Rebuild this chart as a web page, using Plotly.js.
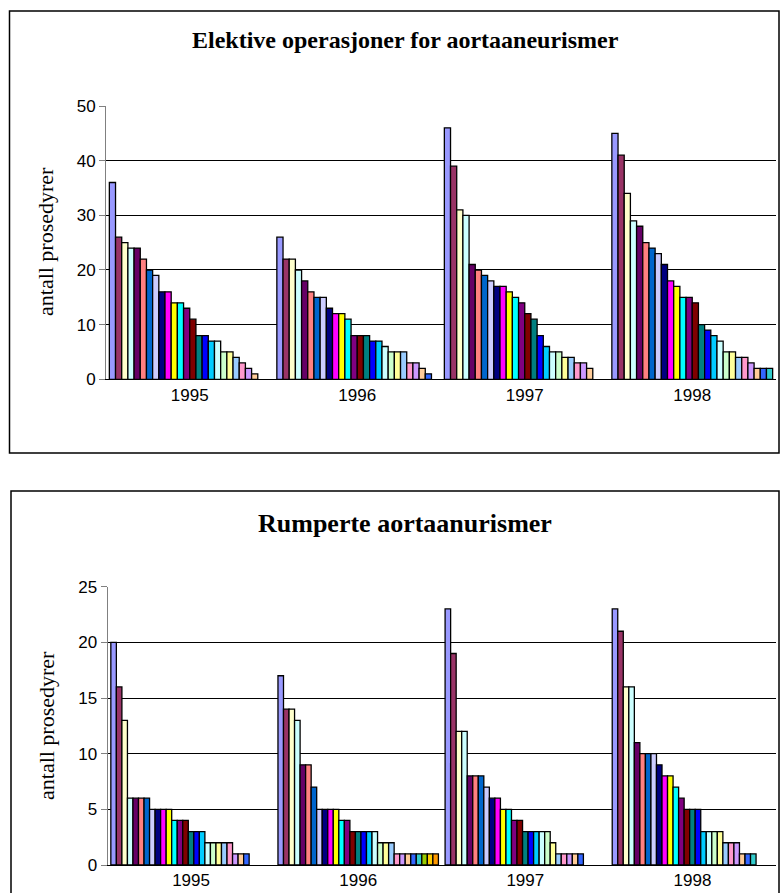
<!DOCTYPE html>
<html>
<head>
<meta charset="utf-8">
<script src="https://cdn.plot.ly/plotly-3.0.1.min.js"></script>
<style>
  html, body { margin: 0; padding: 0; background: #ffffff; }
  #chart { width: 782px; height: 893px; }
</style>
</head>
<body>
<div id="chart"></div>
<script>
// Categories (years)
const years = ["1995", "1996", "1997", "1998"];

// Elective operations – procedures per hospital, sorted descending within each year
const elektiv1995 = [36,26,25,24,24,22,20,19,16,16,14,14,13,11,8,8,7,7,5,5,4,3,2,1];
const elektiv1996 = [26,22,22,20,18,16,15,15,13,12,12,11,8,8,8,7,7,6,5,5,5,3,3,2,1];
const elektiv1997 = [46,39,31,30,21,20,19,18,17,17,16,15,14,12,11,8,6,5,5,4,4,3,3,2];
const elektiv1998 = [45,41,34,29,28,25,24,23,21,18,17,15,15,14,10,9,8,7,5,5,4,4,3,2,2,2];

// Ruptured aneurysms – procedures per hospital, sorted descending within each year
const ruptur1995 = [20,16,13,6,6,6,6,5,5,5,5,4,4,4,3,3,3,2,2,2,2,2,1,1,1];
const ruptur1996 = [17,14,14,13,9,9,7,5,5,5,5,4,4,3,3,3,3,3,2,2,2,1,1,1,1,1,1,1,1];
const ruptur1997 = [23,19,12,12,8,8,8,7,6,6,5,5,4,4,3,3,3,3,3,2,1,1,1,1,1];
const ruptur1998 = [23,21,16,16,11,10,10,10,9,8,8,7,6,5,5,5,3,3,3,3,2,2,2,1,1,1];

// Y axis ticks
const topTicks = [0, 10, 20, 30, 40, 50];
const botTicks = [0, 5, 10, 15, 20, 25];

// Excel default series fill colours
const seriesColors = ["#9999FF","#993366","#FFFFCC","#CCFFFF","#660066","#FF8080","#0066CC","#CCCCFF",
  "#000080","#FF00FF","#FFFF00","#00FFFF","#800080","#800000","#008080","#0000FF","#00CCFF","#CCFFFF",
  "#CCFFCC","#FFFF99","#99CCFF","#FF99CC","#CC99FF","#FFCC99","#3366FF","#33CCCC","#99CC00","#FFCC00","#FF9900"];

function buildTraces(yearArrays, xa, ya) {
  const n = Math.max(...yearArrays.map(a => a.length));
  const traces = [];
  for (let i = 0; i < n; i++) {
    traces.push({
      type: "bar",
      x: years,
      y: yearArrays.map(a => (i < a.length ? a[i] : null)),
      xaxis: xa, yaxis: ya,
      marker: { color: seriesColors[i % seriesColors.length], line: { color: "#000000", width: 1.3 } },
      showlegend: false,
      hoverinfo: "x+y"
    });
  }
  return traces;
}

const data = [].concat(
  buildTraces([elektiv1995, elektiv1996, elektiv1997, elektiv1998], "x", "y"),
  buildTraces([ruptur1995, ruptur1996, ruptur1997, ruptur1998], "x2", "y2")
);

const W = 782, H = 893;
const px = v => v / W;
const py = v => 1 - v / H;

const yaxisCommon = {
  showgrid: true, gridcolor: "#000000", gridwidth: 1,
  showline: true, linecolor: "#808080", linewidth: 1,
  ticks: "outside", ticklen: 6, tickcolor: "#808080",
  tickfont: { family: "Liberation Sans, Arial, sans-serif", size: 17, color: "#000000" },
  zeroline: false, tickmode: "array"
};
const xaxisCommon = {
  type: "category",
  showgrid: false, showline: true, linecolor: "#000000", linewidth: 1,
  ticks: "", zeroline: false,
  tickfont: { family: "Liberation Sans, Arial, sans-serif", size: 17, color: "#000000" }
};

const layout = {
  width: W, height: H,
  margin: { l: 0, r: 0, t: 0, b: 0 },
  paper_bgcolor: "#ffffff", plot_bgcolor: "#ffffff",
  barmode: "group", bargap: 0.04, bargroupgap: 0,
  xaxis: Object.assign({}, xaxisCommon, { domain: [px(106), px(776)], anchor: "y" }),
  yaxis: Object.assign({}, yaxisCommon, { domain: [py(379.3), py(106)], range: [0, 50], tickvals: topTicks, anchor: "x" }),
  xaxis2: Object.assign({}, xaxisCommon, { domain: [px(107.5), px(776)], anchor: "y2" }),
  yaxis2: Object.assign({}, yaxisCommon, { domain: [py(865), py(586.7)], range: [0, 25], tickvals: botTicks, anchor: "x2" }),
  shapes: [
    { type: "rect", xref: "paper", yref: "paper", x0: px(9.5), x1: px(779), y0: py(453), y1: py(11), line: { color: "#000000", width: 1.5 }, fillcolor: "rgba(0,0,0,0)" },
    { type: "rect", xref: "paper", yref: "paper", x0: px(11), x1: px(779), y0: py(905), y1: py(491), line: { color: "#000000", width: 1.5 }, fillcolor: "rgba(0,0,0,0)" }
  ],
  annotations: [
    { text: "<b>Elektive operasjoner for aortaaneurismer</b>", xref: "paper", yref: "paper", x: px(405), y: py(40), showarrow: false, xanchor: "center", yanchor: "middle",
      font: { family: "Liberation Serif, Times New Roman, serif", size: 24, color: "#000000" } },
    { text: "<b>Rumperte aortaanurismer</b>", xref: "paper", yref: "paper", x: px(405), y: py(523), showarrow: false, xanchor: "center", yanchor: "middle",
      font: { family: "Liberation Serif, Times New Roman, serif", size: 26, color: "#000000" } },
    { text: "antall prosedyrer", xref: "paper", yref: "paper", x: px(46), y: py(242), showarrow: false, textangle: -90, xanchor: "center", yanchor: "middle",
      font: { family: "Liberation Serif, Times New Roman, serif", size: 22, color: "#000000" } },
    { text: "antall prosedyrer", xref: "paper", yref: "paper", x: px(46), y: py(726), showarrow: false, textangle: -90, xanchor: "center", yanchor: "middle",
      font: { family: "Liberation Serif, Times New Roman, serif", size: 22, color: "#000000" } }
  ]
};

Plotly.newPlot("chart", data, layout, { staticPlot: true, displayModeBar: false });
</script>
</body>
</html>
